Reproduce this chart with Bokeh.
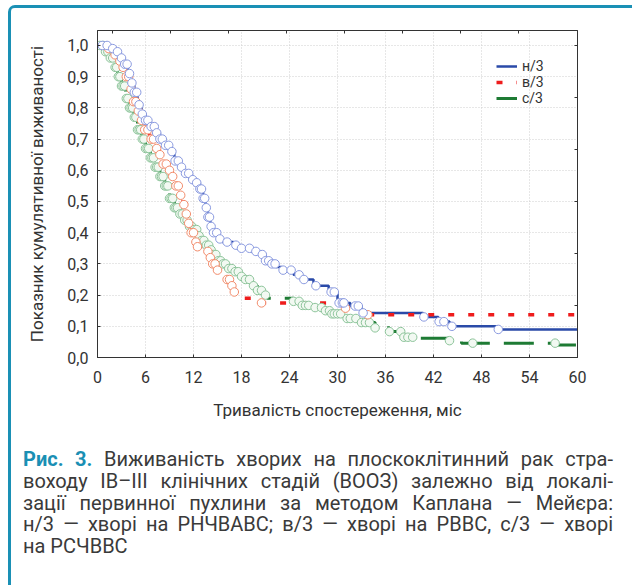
import numpy as np
from bokeh.plotting import figure
from bokeh.models import (Range1d, FixedTicker, LinearAxis, CustomJSTickFormatter,
                          Legend, LegendItem, Div)
from bokeh.layouts import column
from bokeh.embed import file_html
from bokeh.resources import INLINE

# ---------------- data ----------------
x_ticks = [0, 6, 12, 18, 24, 30, 36, 42, 48, 54, 60]
y_ticks = [0.0, 0.1, 0.2, 0.3, 0.4, 0.5, 0.6, 0.7, 0.8, 0.9, 1.0]
top_ticks = [1.9, 9.15, 16.4, 23.65, 30.9, 38.15, 45.4, 52.65]
right_ticks = [0.1667, 0.3333, 0.5, 0.6667, 0.8333, 1.0]

series_labels = ["н/3", "в/3", "с/3"]

# н/3 (blue) step curve: time, survival after time
blue_t = [0, 1.5, 2.2, 2.8, 3.3, 3.8, 4.2, 4.6, 5.0, 5.5, 6.0, 6.6, 7.2, 7.8, 8.4, 9.0,
          9.6, 10.2, 10.8, 11.5, 12.2, 12.8, 13.2, 13.5, 13.8, 14.1, 14.5, 15.0, 15.6,
          17.0, 18.0, 19.2, 20.5, 21.0, 21.6, 22.3, 23.0, 24.5, 25.5, 27.0, 28.9, 30.0,
          31.6, 33.0, 40.7, 42.6, 44.0, 50.0, 60]
blue_s = [1.0, 0.99, 0.98, 0.96, 0.94, 0.91, 0.88, 0.85, 0.81, 0.78, 0.76, 0.74, 0.72, 0.70,
          0.68, 0.66, 0.63, 0.61, 0.59, 0.57, 0.56, 0.54, 0.51, 0.48, 0.45, 0.42, 0.40, 0.38,
          0.37, 0.36, 0.35, 0.34, 0.33, 0.31, 0.30, 0.29, 0.28, 0.265, 0.25, 0.23, 0.21,
          0.175, 0.165, 0.143, 0.13, 0.115, 0.10, 0.09, 0.09]
blue_cens = [0.6, 1.2, 1.9, 2.5, 3.0, 3.4, 3.7, 4.0, 4.3, 4.6, 4.9, 5.2, 5.6, 6.0, 6.3, 6.7,
             7.1, 7.4, 7.8, 8.1, 8.5, 8.9, 9.3, 9.7, 10.1, 10.5, 11.0, 11.4, 11.9, 12.4, 12.8,
             13.0, 13.2, 13.4, 13.6, 13.8, 14.0, 14.2, 14.5, 14.9, 15.3, 16.2, 17.3, 18.0,
             19.0, 19.8, 20.6, 21.0, 21.4, 21.8, 22.2, 23.2, 24.2, 25.2, 25.8, 27.3, 29.2,
             29.6, 30.2, 30.6, 30.8, 32.2, 32.6, 33.2, 40.8, 42.7, 43.3, 44.3, 50.1]

# в/3 (red)
red_t = [0, 1.0, 1.8, 2.5, 3.0, 3.5, 4.0, 4.5, 4.9, 5.4, 5.9, 6.5, 7.1, 7.7, 8.2, 8.7, 9.2,
         9.8, 10.3, 10.7, 11.0, 11.3, 11.7, 12.2, 12.5, 13.6, 14.0, 14.4, 14.8, 15.6, 16.2,
         16.6, 17.0, 17.4, 20.3, 31.0, 33.6, 60]
red_s = [1.0, 0.99, 0.97, 0.95, 0.93, 0.90, 0.86, 0.82, 0.79, 0.76, 0.73, 0.70, 0.67, 0.65,
         0.62, 0.60, 0.58, 0.55, 0.52, 0.49, 0.46, 0.43, 0.40, 0.37, 0.355, 0.34, 0.32, 0.30,
         0.28, 0.27, 0.25, 0.23, 0.21, 0.19, 0.175, 0.158, 0.137, 0.137]
red_cens = [1.4, 2.2, 2.8, 3.2, 3.6, 3.9, 4.2, 4.5, 4.8, 5.1, 5.5, 5.9, 6.3, 6.7, 7.0, 7.4,
            7.8, 8.2, 8.6, 9.0, 9.4, 9.8, 10.1, 10.4, 10.8, 11.1, 11.4, 11.7, 12.0, 12.3,
            12.5, 13.8, 14.1, 14.4, 14.7, 15.0, 16.2, 16.5, 16.8, 17.1, 20.5, 31.0, 33.8]

# с/3 (green)
green_t = [0, 0.8, 1.4, 2.0, 2.5, 3.0, 3.5, 4.0, 4.5, 5.0, 5.5, 6.0, 6.6, 7.2, 7.8, 8.4, 9.0,
           9.6, 10.2, 10.8, 11.4, 12.0, 12.5, 13.0, 13.5, 14.0, 14.5, 15.0, 15.5, 16.2, 17.0,
           17.8, 18.5, 19.3, 20.0, 20.7, 21.2, 24.5, 25.5, 26.6, 28.5, 29.2, 30.5, 32.6, 34.7,
           36.5, 38.0, 40.0, 44.0, 45.5, 57.3, 60]
green_s = [1.0, 0.98, 0.96, 0.93, 0.90, 0.87, 0.83, 0.80, 0.77, 0.73, 0.70, 0.67, 0.64, 0.61,
           0.58, 0.55, 0.51, 0.48, 0.46, 0.44, 0.42, 0.41, 0.39, 0.375, 0.36, 0.345, 0.33,
           0.31, 0.30, 0.285, 0.275, 0.26, 0.25, 0.23, 0.215, 0.20, 0.19, 0.18, 0.167, 0.16,
           0.15, 0.14, 0.125, 0.112, 0.095, 0.083, 0.065, 0.062, 0.054, 0.046, 0.04, 0.04]
green_cens = [0.3, 0.7, 1.0, 1.3, 1.6, 1.9, 2.2, 2.4, 2.6, 2.8, 3.0, 3.2, 3.4, 3.6, 3.8, 4.0,
              4.2, 4.4, 4.6, 4.8, 5.0, 5.2, 5.4, 5.6, 5.8, 6.0, 6.2, 6.4, 6.6, 6.8, 7.0, 7.2,
              7.4, 7.6, 7.8, 8.0, 8.2, 8.4, 8.6, 8.8, 9.0, 9.2, 9.4, 9.6, 9.8, 10.0, 10.3,
              10.6, 10.9, 11.2, 11.5, 11.8, 12.1, 12.4, 12.7, 13.0, 13.3, 13.6, 13.9, 14.2,
              14.5, 14.8, 15.1, 15.4, 15.7, 16.0, 16.4, 16.8, 17.2, 17.6, 18.0, 18.5, 19.0,
              19.5, 20.0, 20.5, 21.0, 24.5, 25.2, 25.6, 26.0, 26.4, 27.2, 28.0, 28.5, 29.0,
              29.3, 29.6, 30.0, 30.4, 31.2, 31.6, 32.3, 33.0, 33.5, 34.0, 34.7, 36.5, 37.9,
              38.3, 38.8, 39.4, 44.0, 46.9, 57.2]

caption_lines = [
    "Виживаність хворих на плоскоклітинний рак стра-",
    "воходу IB–III клінічних стадій (ВООЗ) залежно від локалі-",
    "зації первинної пухлини за методом Каплана — Мейєра:",
    "н/3 — хворі на РНЧВАВС; в/3 — хворі на РВВС, с/3 — хворі",
    "на РСЧВВС",
]
caption_head = "Рис. 3."

# ---------------- styling ----------------
FONT = "Roboto"
TXT = "#333333"


def step_value(times, surv, c):
    idx = np.searchsorted(np.asarray(times), np.asarray(c), side="right") - 1
    return np.asarray(surv)[idx]


p = figure(width=614, height=417, x_range=Range1d(0, 60), y_range=Range1d(0, 1.048),
           output_backend="svg", toolbar_location=None,
           min_border_left=86, min_border_right=48, min_border_top=22, min_border_bottom=68,
           background_fill_color="white", border_fill_color="white")
p.outline_line_color = "#333333"
p.outline_line_width = 1

p.xaxis.ticker = FixedTicker(ticks=x_ticks)
p.yaxis.ticker = FixedTicker(ticks=y_ticks)
p.yaxis.formatter = CustomJSTickFormatter(code="return tick.toFixed(1).replace('.', ',');")
p.xaxis.axis_label = "Тривалість спостереження, міс"
p.yaxis.axis_label = "Показник кумулятивної виживаності"
for ax in (p.xaxis, p.yaxis):
    ax.axis_label_text_font = FONT
    ax.axis_label_text_font_style = "normal"
    ax.axis_label_text_font_size = "17px"
    ax.axis_label_text_color = TXT
    ax.major_label_text_font = FONT
    ax.major_label_text_font_size = "16px"
    ax.major_label_text_color = TXT
    ax.major_tick_in = 3
    ax.major_tick_out = 0
    ax.minor_tick_line_color = None
    ax.axis_line_color = "#333333"
    ax.major_tick_line_color = "#333333"
p.xaxis.major_label_standoff = 13
p.xaxis.axis_label_standoff = 14
p.yaxis.major_label_standoff = 9
p.yaxis.axis_label_standoff = 17

for g in (p.xgrid, p.ygrid):
    g.grid_line_color = "#cfcfcf"
    g.grid_line_dash = "1 2"
    g.grid_line_width = 1

blank = CustomJSTickFormatter(code="return '';")
top_ax = LinearAxis(ticker=FixedTicker(ticks=top_ticks), formatter=blank,
                    major_tick_in=3, major_tick_out=0, minor_tick_line_color=None,
                    axis_line_color="#333333", major_tick_line_color="#333333",
                    major_label_text_font_size="1px")
right_ax = LinearAxis(ticker=FixedTicker(ticks=right_ticks), formatter=blank,
                      major_tick_in=3, major_tick_out=0, minor_tick_line_color=None,
                      axis_line_color="#333333", major_tick_line_color="#333333",
                      major_label_text_font_size="1px")
p.add_layout(top_ax, "above")
p.add_layout(right_ax, "right")

# lines
bl = p.step(blue_t, blue_s, mode="after", line_color="#2a4aa8", line_width=2.5)
rl = p.step(red_t, red_s, mode="after", line_color="#ee1c1c", line_width=3.5, line_dash="6 14")
gl = p.step(green_t, green_s, mode="after", line_color="#1e7b34", line_width=3, line_dash="30 14")

# censored marks
p.scatter(green_cens, step_value(green_t, green_s, green_cens), marker="circle", size=8.5,
          line_color="#8cc49a", fill_color="#f2f9f2", line_width=1)
p.scatter(red_cens, step_value(red_t, red_s, red_cens), marker="circle", size=8.5,
          line_color="#f28b6a", fill_color="white", line_width=1)
p.scatter(blue_cens, step_value(blue_t, blue_s, blue_cens), marker="circle", size=8.5,
          line_color="#8a9ae0", fill_color="white", line_width=1)

legend = Legend(items=[LegendItem(label=series_labels[0], renderers=[bl]),
                       LegendItem(label=series_labels[1], renderers=[rl]),
                       LegendItem(label=series_labels[2], renderers=[gl])],
                location="top_right", border_line_color=None, background_fill_alpha=0,
                label_text_font=FONT, label_text_font_size="14px", label_text_color=TXT,
                glyph_width=21, glyph_height=16, label_height=16, label_width=27, spacing=0,
                padding=6, margin=28, label_standoff=5)
p.add_layout(legend)

line_style = ("display: block; width: 590px; line-height: 21.75px; "
              "text-align: justify; text-align-last: justify;")
last_style = "display: block; width: 590px; line-height: 21.75px; text-align: left;"
html_lines = []
for i, ln in enumerate(caption_lines):
    content = ln
    if i == 0:
        content = (f"<span style='color:#1a8fb4; font-weight:bold;'>{caption_head}</span> " + ln)
    style = line_style if i < len(caption_lines) - 1 else last_style
    html_lines.append(f"<div style='{style}'>{content}</div>")

cap = Div(text="".join(html_lines), width=614, height=154,
          styles={"font-family": "Roboto, sans-serif", "font-size": "20px",
                  "line-height": "21.75px", "color": "#3a3a3a",
                  "padding": "19px 13px 0px 7px", "box-sizing": "border-box"})

layout = column(p, cap, margin=(5, 0, 0, 8),
                styles={"border": "3px solid #1a90b5", "border-radius": "7px",
                        "background": "white"})

open("out.html", "w").write(file_html(layout, INLINE))
